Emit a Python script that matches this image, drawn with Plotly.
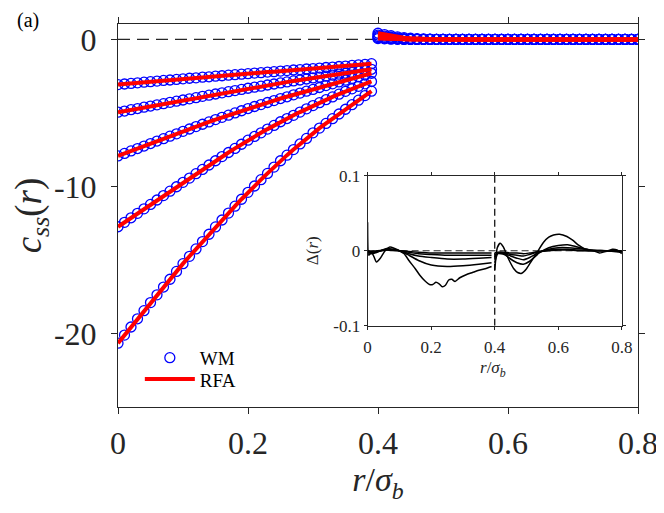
import plotly.graph_objects as go

# ---- main panel data: c_ss(r) for 5 cases, WM (markers) and RFA (line) ----
r_left = [0.00, 0.01, 0.02, 0.03, 0.04, 0.05, 0.06, 0.07, 0.08, 0.09,
          0.10, 0.11, 0.12, 0.13, 0.14, 0.15, 0.16, 0.17, 0.18, 0.19,
          0.20, 0.21, 0.22, 0.23, 0.24, 0.25, 0.26, 0.27, 0.28, 0.29,
          0.30, 0.31, 0.32, 0.33, 0.34, 0.35, 0.36, 0.37, 0.38, 0.39]

c1_left = [-3.07, -3.03, -2.99, -2.95, -2.91, -2.87, -2.83, -2.79, -2.76, -2.72,
           -2.68, -2.64, -2.61, -2.57, -2.54, -2.50, -2.47, -2.43, -2.40, -2.36,
           -2.33, -2.29, -2.26, -2.22, -2.19, -2.15, -2.12, -2.08, -2.05, -2.01,
           -1.98, -1.95, -1.91, -1.88, -1.84, -1.81, -1.77, -1.73, -1.69, -1.65]
c2_left = [-4.95, -4.87, -4.78, -4.70, -4.61, -4.53, -4.45, -4.37, -4.28, -4.20,
           -4.12, -4.04, -3.96, -3.87, -3.79, -3.71, -3.63, -3.55, -3.48, -3.40,
           -3.32, -3.25, -3.18, -3.10, -3.03, -2.96, -2.89, -2.82, -2.76, -2.69,
           -2.62, -2.56, -2.49, -2.43, -2.36, -2.30, -2.24, -2.17, -2.10, -2.03]
c3_left = [-7.92, -7.75, -7.58, -7.42, -7.25, -7.08, -6.91, -6.75, -6.58, -6.42,
           -6.25, -6.09, -5.93, -5.77, -5.61, -5.45, -5.30, -5.15, -5.00, -4.85,
           -4.70, -4.56, -4.43, -4.29, -4.16, -4.02, -3.90, -3.77, -3.65, -3.52,
           -3.40, -3.27, -3.14, -3.02, -2.89, -2.77, -2.65, -2.54, -2.42, -2.30]
c4_left = [-12.74, -12.44, -12.13, -11.83, -11.52, -11.22, -10.92, -10.62, -10.32, -10.02,
           -9.72, -9.43, -9.13, -8.84, -8.54, -8.25, -7.97, -7.69, -7.41, -7.13,
           -6.85, -6.60, -6.35, -6.10, -5.85, -5.60, -5.38, -5.16, -4.94, -4.72,
           -4.50, -4.30, -4.10, -3.91, -3.72, -3.53, -3.36, -3.19, -3.02, -2.86]
c5_left = [-20.66, -20.11, -19.56, -19.00, -18.45, -17.90, -17.37, -16.84, -16.31, -15.78,
           -15.25, -14.75, -14.25, -13.75, -13.25, -12.75, -12.28, -11.81, -11.34, -10.87,
           -10.40, -9.97, -9.54, -9.11, -8.68, -8.25, -7.87, -7.49, -7.11, -6.73,
           -6.35, -6.03, -5.71, -5.39, -5.07, -4.75, -4.44, -4.13, -3.82, -3.52]

r_right = [0.40, 0.41, 0.42, 0.43, 0.44, 0.45, 0.46, 0.47, 0.48, 0.49,
           0.50, 0.51, 0.52, 0.53, 0.54, 0.55, 0.56, 0.57, 0.58, 0.59,
           0.60, 0.61, 0.62, 0.63, 0.64, 0.65, 0.66, 0.67, 0.68, 0.69,
           0.70, 0.71, 0.72, 0.73, 0.74, 0.75, 0.76, 0.77, 0.78, 0.79, 0.80]

c1_right = [0.42, 0.33, 0.25, 0.18, 0.12, 0.08, 0.05, 0.03, 0.02, 0.01,
            0.01, 0.00, 0.00, 0.00, 0.00, 0.00, 0.00, 0.00, 0.00, 0.00,
            0.00, 0.00, 0.00, 0.00, 0.00, 0.00, 0.00, 0.00, 0.00, 0.00,
            0.00, 0.00, 0.00, 0.00, 0.00, 0.00, 0.00, 0.00, 0.00, 0.00, 0.00]
c2_right = [0.30, 0.22, 0.15, 0.10, 0.06, 0.04, 0.02, 0.01, 0.01, 0.00,
            0.00, 0.00, 0.00, 0.00, 0.00, 0.00, 0.00, 0.00, 0.00, 0.00,
            0.00, 0.00, 0.00, 0.00, 0.00, 0.00, 0.00, 0.00, 0.00, 0.00,
            0.00, 0.00, 0.00, 0.00, 0.00, 0.00, 0.00, 0.00, 0.00, 0.00, 0.00]
c3_right = [0.20, 0.14, 0.09, 0.06, 0.03, 0.02, 0.01, 0.00, 0.00, 0.00,
            0.00, 0.00, 0.00, 0.00, 0.00, 0.00, 0.00, 0.00, 0.00, 0.00,
            0.00, 0.00, 0.00, 0.00, 0.00, 0.00, 0.00, 0.00, 0.00, 0.00,
            0.00, 0.00, 0.00, 0.00, 0.00, 0.00, 0.00, 0.00, 0.00, 0.00, 0.00]
c4_right = [0.12, 0.08, 0.05, 0.03, 0.01, 0.00, 0.00, 0.00, 0.00, 0.00,
            0.00, 0.00, 0.00, 0.00, 0.00, 0.00, 0.00, 0.00, 0.00, 0.00,
            0.00, 0.00, 0.00, 0.00, 0.00, 0.00, 0.00, 0.00, 0.00, 0.00,
            0.00, 0.00, 0.00, 0.00, 0.00, 0.00, 0.00, 0.00, 0.00, 0.00, 0.00]
c5_right = [0.06, 0.04, 0.02, 0.01, 0.00, 0.00, 0.00, 0.00, 0.00, 0.00,
            0.00, 0.00, 0.00, 0.00, 0.00, 0.00, 0.00, 0.00, 0.00, 0.00,
            0.00, 0.00, 0.00, 0.00, 0.00, 0.00, 0.00, 0.00, 0.00, 0.00,
            0.00, 0.00, 0.00, 0.00, 0.00, 0.00, 0.00, 0.00, 0.00, 0.00, 0.00]

zero_x = [0.0, 0.8]
zero_y = [0.0, 0.0]

x_ticks = [0, 0.2, 0.4, 0.6, 0.8]
x_ticktext = ['0', '0.2', '0.4', '0.6', '0.8']
y_ticks = [0, -10, -20]
y_ticktext = ['0', '-10', '-20']

# ---- inset data: Delta(r) = WM - RFA ----
d_rA_left = [0, 0.004, 0.012, 0.02, 0.028, 0.04, 0.055, 0.07, 0.085, 0.1,
             0.115, 0.13, 0.15, 0.165, 0.18, 0.195, 0.205, 0.215, 0.225, 0.235,
             0.245, 0.255, 0.265, 0.275, 0.29, 0.31, 0.33, 0.35, 0.37, 0.39]
d_A_left = [0.038, -0.006, -0.002, -0.008, -0.015, -0.010, 0.000, 0.005, 0.003, 0.000,
            -0.004, -0.013, -0.024, -0.033, -0.040, -0.045, -0.045, -0.042, -0.044, -0.048,
            -0.046, -0.039, -0.038, -0.041, -0.036, -0.032, -0.029, -0.026, -0.024, -0.021]
d_rA_right = [0.4, 0.403, 0.408, 0.417, 0.427, 0.438, 0.448, 0.46, 0.472, 0.485,
              0.5, 0.515, 0.532, 0.553, 0.57, 0.585, 0.604, 0.627, 0.645, 0.665,
              0.685, 0.71, 0.73, 0.75, 0.77, 0.785, 0.8]
d_A_right = [-0.026, -0.012, 0.004, 0.010, 0.005, -0.006, -0.015, -0.024, -0.029, -0.030,
             -0.024, -0.014, -0.003, 0.011, 0.018, 0.021, 0.022, 0.019, 0.014, 0.007,
             0.002, 0.000, -0.003, -0.001, 0.002, 0.001, -0.004]

d_r_left = [0, 0.01, 0.03, 0.06, 0.1, 0.13, 0.16, 0.2, 0.25, 0.3, 0.35, 0.39]
d_B_left = [0.0, -0.004, -0.002, 0.003, 0.0, -0.006, -0.013, -0.019, -0.021, -0.020, -0.018, -0.016]
d_C_left = [0.0, -0.003, -0.001, 0.002, 0.0, -0.004, -0.007, -0.009, -0.011, -0.011, -0.010, -0.009]
d_D_left = [0.0, -0.002, -0.001, 0.001, 0.0, -0.002, -0.004, -0.005, -0.006, -0.006, -0.006, -0.006]
d_E_left = [0.0, -0.001, 0.0, 0.001, 0.0, -0.001, -0.002, -0.003, -0.003, -0.003, -0.003, -0.003]

d_r_right = [0.4, 0.41, 0.43, 0.45, 0.47, 0.49, 0.51, 0.54, 0.57, 0.6, 0.63, 0.66, 0.7, 0.75, 0.8]
d_B_right = [-0.016, -0.004, -0.005, -0.011, -0.016, -0.018, -0.014, -0.003, 0.004, 0.007, 0.008, 0.005, 0.001, 0.0, -0.002]
d_C_right = [-0.009, -0.003, -0.004, -0.007, -0.010, -0.012, -0.009, -0.002, 0.002, 0.004, 0.004, 0.003, 0.001, 0.0, -0.001]
d_D_right = [-0.006, -0.003, -0.003, -0.005, -0.006, -0.007, -0.005, -0.001, 0.001, 0.002, 0.002, 0.001, 0.0, 0.0, -0.001]
d_E_right = [-0.003, -0.002, -0.002, -0.003, -0.003, -0.004, -0.003, -0.001, 0.0, 0.001, 0.001, 0.0, 0.0, 0.0, 0.0]

inset_vx = [0.4, 0.4]
inset_vy = [-0.1, 0.1]

inset_xticks = [0, 0.2, 0.4, 0.6, 0.8]
inset_xticktext = ['0', '0.2', '0.4', '0.6', '0.8']
inset_yticks = [-0.1, 0, 0.1]
inset_yticktext = ['-0.1', '0', '0.1']

FONT = 'Liberation Serif'
AX = '#262626'

fig = go.Figure()

# dashed zero line in main panel
fig.add_trace(go.Scatter(x=zero_x, y=zero_y, mode='lines', showlegend=False,
                         line=dict(color=AX, width=1.3, dash='12px,7px')))

segments = [(r_left, c1_left), (r_left, c2_left), (r_left, c3_left), (r_left, c4_left), (r_left, c5_left),
            (r_right, c1_right), (r_right, c2_right), (r_right, c3_right), (r_right, c4_right), (r_right, c5_right)]

# WM markers
for i, (xs, ys) in enumerate(segments):
    fig.add_trace(go.Scatter(
        x=xs, y=ys, mode='markers', name='WM', showlegend=(i == 0), legend='legend',
        marker=dict(symbol='circle-open', size=10, color='#0000FF', line=dict(width=1.3, color='#0000FF')),
    ))

# RFA lines (own legend box so the two rows sit closer together)
for i, (xs, ys) in enumerate(segments):
    fig.add_trace(go.Scatter(
        x=xs, y=ys, mode='lines', name='RFA', showlegend=(i == 0), legend='legend2',
        line=dict(color='#FF0000', width=4),
    ))

# ---- inset ----
fig.add_trace(go.Scatter(x=zero_x, y=zero_y, xaxis='x2', yaxis='y2', mode='lines', showlegend=False,
                         line=dict(color=AX, width=1.2, dash='7px,4px')))
fig.add_trace(go.Scatter(x=inset_vx, y=inset_vy, xaxis='x2', yaxis='y2', mode='lines', showlegend=False,
                         line=dict(color='black', width=1.2, dash='7px,4px')))

inset_curves = [(d_rA_left, d_A_left), (d_rA_right, d_A_right),
                (d_r_left, d_B_left), (d_r_right, d_B_right),
                (d_r_left, d_C_left), (d_r_right, d_C_right),
                (d_r_left, d_D_left), (d_r_right, d_D_right),
                (d_r_left, d_E_left), (d_r_right, d_E_right)]
for xs, ys in inset_curves:
    fig.add_trace(go.Scatter(x=xs, y=ys, xaxis='x2', yaxis='y2', mode='lines', showlegend=False,
                             line=dict(color='black', width=1.5, shape='spline', smoothing=0.6)))

legend_style = dict(xanchor='left', yanchor='top', bgcolor='rgba(0,0,0,0)',
                    font=dict(size=19, family=FONT, color='black'), itemwidth=50)

# page body has an 8px margin, so the figure is 8px smaller than the window
fig.update_layout(
    width=656, height=505,
    margin=dict(l=110, r=26, t=16, b=106),
    paper_bgcolor='white', plot_bgcolor='white',
    font=dict(family=FONT, color=AX),
    xaxis=dict(range=[0, 0.8], tickvals=x_ticks, ticktext=x_ticktext, automargin=False,
               showline=True, mirror='ticks', linecolor=AX, linewidth=1,
               ticks='outside', ticklen=6, tickcolor=AX, showgrid=False, zeroline=False,
               tickfont=dict(size=32, family=FONT, color=AX), ticklabelstandoff=2,
               title=dict(text='<i>r</i>/<i>σ</i><sub><i>b</i></sub>', font=dict(size=34, family=FONT, color=AX), standoff=2)),
    yaxis=dict(range=[-25, 1.05], tickvals=y_ticks, ticktext=y_ticktext, automargin=False,
               showline=True, mirror='ticks', linecolor=AX, linewidth=1,
               ticks='outside', ticklen=6, tickcolor=AX, showgrid=False, zeroline=False,
               tickfont=dict(size=32, family=FONT, color=AX), ticklabelstandoff=8,
               title=dict(text='<i>c</i><sub><i>ss</i></sub>(<i>r</i>)', font=dict(size=37, family=FONT, color=AX), standoff=14)),
    xaxis2=dict(domain=[0.480, 0.969], anchor='y2', range=[0, 0.8], automargin=False,
                tickvals=inset_xticks, ticktext=inset_xticktext,
                showline=True, mirror='ticks', linecolor=AX, linewidth=1,
                ticks='outside', ticklen=3, tickcolor=AX, showgrid=False, zeroline=False,
                tickfont=dict(size=17, family=FONT, color=AX), ticklabelstandoff=3),
    yaxis2=dict(domain=[0.212, 0.604], anchor='x2', range=[-0.1, 0.1], automargin=False,
                tickvals=inset_yticks, ticktext=inset_yticktext,
                showline=True, mirror='ticks', linecolor=AX, linewidth=1,
                ticks='outside', ticklen=3, tickcolor=AX, showgrid=False, zeroline=False,
                tickfont=dict(size=17, family=FONT, color=AX),
                title=dict(text='Δ(<i>r</i>)', font=dict(size=17, family=FONT, color=AX), standoff=10)),
    legend=dict(x=0.042, y=0.178, **legend_style),
    legend2=dict(x=0.042, y=0.122, **legend_style),
    annotations=[
        dict(text='(a)', xref='paper', yref='paper', x=-0.198, y=1.0104, xanchor='left', yanchor='middle',
             showarrow=False, font=dict(size=20, family=FONT, color='black')),
        # inset x label placed as annotation to sit close to its tick labels
        dict(text='<i>r</i>/<i>σ</i><sub><i>b</i></sub>', xref='paper', yref='paper', x=0.721, y=0.099,
             xanchor='center', yanchor='middle', showarrow=False, font=dict(size=17, family=FONT, color=AX)),
    ],
)

fig.write_html("out.html")
